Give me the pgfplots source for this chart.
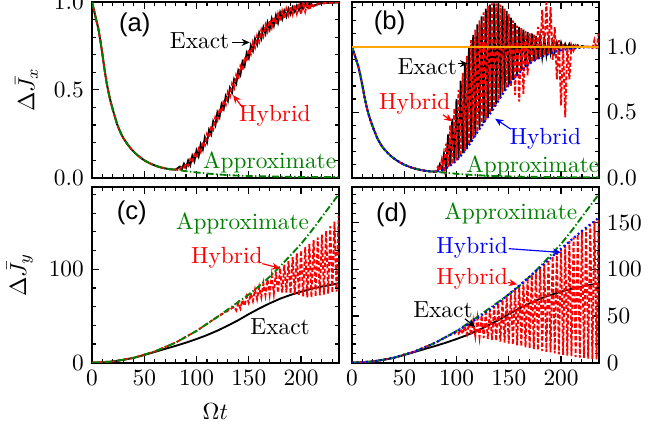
\documentclass[border=0pt]{standalone}
\usepackage{fontspec}
\usepackage{pgfplots}
\pgfplotsset{compat=1.18}
\usetikzlibrary{arrows.meta}
\newfontfamily\helv{Liberation Sans}
\definecolor{dgreen}{rgb}{0,0.5,0}
\definecolor{orng}{rgb}{1,0.65,0}
\tikzset{
 lbl/.style={font=\fontsize{10}{12}\selectfont, inner sep=0pt},
 plab/.style={font=\helv\fontsize{11}{13}\selectfont, inner sep=0pt},
 arr/.style={-{Stealth[length=3.5pt,width=3pt]}, line width=0.5pt},
 exact/.style={black, line width=0.8pt},
 hyb/.style={red, line width=0.8pt, dash pattern=on 1.8pt off 0.9pt},
 apx/.style={dgreen, line width=0.8pt, dash pattern=on 3pt off 1pt on 0.6pt off 1pt},
 hybb/.style={blue, line width=0.9pt, dash pattern=on 0.8pt off 1.2pt},
}
\pgfplotsset{
 panel/.style={scale only axis, width=105.7pt, height=75.3pt, xmin=0, xmax=236,
   anchor=north west, axis line style={line width=0.9pt},
   tick style={line width=0.5pt, black}, major tick length=3pt, minor tick length=1.6pt,
   xtick={0,50,100,150,200}, minor xtick={10,20,...,230}, tick align=inside,
   clip mode=individual, every axis plot/.append style={mark=none}},
 dec1/.style={yticklabel style={/pgf/number format/.cd, fixed, fixed zerofill, precision=1}},
}
\begin{document}
\begin{tikzpicture}
\path[use as bounding box] (0,0) rectangle (282pt,-180.43pt);
% ---------------- (a)
\begin{axis}[panel, at={(39.43pt,-0.86pt)}, ymin=0, ymax=1.0, ytick={0,0.5,1},
  minor ytick={0.1,0.2,0.3,0.4,0.6,0.7,0.8,0.9}, xticklabels={},
  dec1, ylabel={$\Delta\bar{J}_x$}]
\addplot[exact] coordinates {(0,1.000)(2,0.950)(4,0.900)(6,0.850)(8,0.780)(10,0.700)(12,0.615)(14,0.540)(16,0.480)(18,0.430)(20,0.385)(22,0.345)(24,0.305)(26,0.275)(28,0.248)(30,0.225)(34,0.190)(38,0.160)(42,0.136)(46,0.116)(50,0.099)(55,0.083)(60,0.070)(65,0.060)(70,0.053)(75,0.048)(80,0.046)
(84,.063)(86,.049)(88,.080)(90,.057)(92,.098)(94,.071)(96,.125)(98,.094)(100,.155)(102,.122)(104,.190)(106,.160)(108,.230)(110,.200)(112,.273)(114,.247)(116,.322)(118,.297)(120,.372)(122,.345)(124,.418)(126,.391)(128,.464)(130,.437)(132,.511)(134,.485)(136,.560)(138,.535)(140,.610)(142,.585)(144,.660)(146,.635)(148,.709)(150,.681)(152,.752)(154,.722)(156,.791)(158,.758)(160,.825)(162,.791)(164,.856)(166,.820)(168,.883)(170,.845)(172,.905)(174,.865)(176,.924)(178,.882)(180,.940)(182,.903)(184,.950)(186,.917)(188,.962)(190,.932)(192,.970)(194,.945)(196,.979)(198,.953)(200,.984)(202,.963)(204,.988)(206,.971)(208,.992)(210,.977)(220,.993)(236,.998)};
\addplot[hyb] coordinates {(0,1.000)(2,0.950)(4,0.900)(6,0.850)(8,0.780)(10,0.700)(12,0.615)(14,0.540)(16,0.480)(18,0.430)(20,0.385)(22,0.345)(24,0.305)(26,0.275)(28,0.248)(30,0.225)(34,0.190)(38,0.160)(42,0.136)(46,0.116)(50,0.099)(55,0.083)(60,0.070)(65,0.060)(70,0.053)(75,0.048)(80,0.046)
(84,.045)(86,.065)(88,.058)(90,.082)(92,.068)(94,.105)(96,.088)(98,.132)(100,.112)(102,.165)(104,.145)(106,.205)(108,.185)(110,.248)(112,.228)(114,.295)(116,.275)(118,.345)(120,.325)(122,.393)(124,.370)(126,.440)(128,.415)(130,.487)(132,.462)(134,.535)(136,.510)(138,.585)(140,.560)(142,.635)(144,.610)(146,.685)(148,.660)(150,.731)(152,.703)(154,.772)(156,.741)(158,.808)(160,.775)(162,.841)(164,.806)(166,.870)(168,.833)(170,.895)(172,.855)(174,.915)(176,.874)(178,.932)(180,.890)(182,.948)(184,.905)(186,.962)(188,.925)(190,.975)(192,.930)(194,.985)(196,.935)(198,.995)(200,.930)(202,.998)(204,.945)(206,.995)(208,.955)(210,.992)(212,.975)(216,.99)(220,.993)(236,.998)};
\addplot[apx] coordinates {(0,1.000)(2,0.950)(4,0.900)(6,0.850)(8,0.780)(10,0.700)(12,0.615)(14,0.540)(16,0.480)(18,0.430)(20,0.385)(22,0.345)(24,0.305)(26,0.275)(28,0.248)(30,0.225)(34,0.190)(38,0.160)(42,0.136)(46,0.116)(50,0.099)(55,0.083)(60,0.070)(65,0.060)(70,0.053)(75,0.048)(80,0.046)
(90,.037)(100,.030)(110,.024)(120,.019)(130,.015)(140,.012)(160,.008)(180,.006)(200,.004)(236,.003)};
\node[plab] at (axis cs:41,0.87) {(a)};
\node[lbl] at (axis cs:103,0.78) {Exact};
\draw[arr] (axis cs:134,0.77) -- (axis cs:151,0.77);
\node[lbl, red] at (axis cs:175,0.35) {Hybrid};
\draw[arr, red] (axis cs:144,0.40) -- (axis cs:135,0.47);
\node[lbl, dgreen] at (axis cs:170,0.085) {Approximate};
\end{axis}
% ---------------- (b)
\begin{axis}[panel, at={(150.86pt,-0.86pt)}, ymin=0, ymax=1.34, ytick={0,0.5,1},
  minor ytick={0.1,0.2,0.3,0.4,0.6,0.7,0.8,0.9,1.1,1.2,1.3}, xticklabels={},
  yticklabel pos=right, dec1]
\addplot[exact] coordinates {(0,1.000)(2,0.950)(4,0.900)(6,0.850)(8,0.780)(10,0.700)(12,0.615)(14,0.540)(16,0.480)(18,0.430)(20,0.385)(22,0.345)(24,0.305)(26,0.275)(28,0.248)(30,0.225)(34,0.190)(38,0.160)(42,0.136)(46,0.116)(50,0.099)(55,0.083)(60,0.070)(65,0.060)(70,0.053)(75,0.048)(80,0.046)
(82,.049)(84,.10)(86,.059)(88,.18)(90,.072)(92,.33)(94,.091)(96,.45)(98,.116)(100,.60)(102,.147)(104,.74)(106,.185)(108,.86)(110,.225)(112,1.00)(114,.272)(116,1.09)(118,.322)(120,1.17)(122,.370)(124,1.23)(126,.416)(128,1.29)(130,.462)(132,1.32)(134,.510)(136,1.33)(138,.560)(140,1.33)(142,.610)(144,1.31)(146,.660)(148,1.27)(150,.706)(152,1.22)(154,.747)(156,1.18)(158,.783)(160,1.15)(162,.816)(164,1.13)(166,.845)(168,1.11)(170,.870)(172,1.10)(174,.890)(176,1.08)(178,.907)(180,1.07)(182,.923)(184,1.06)(186,.937)(188,1.05)(190,.950)(192,1.04)(194,.960)(196,1.03)(198,.968)(200,1.03)(202,.975)(204,1.02)(206,.981)(208,1.02)(210,.986)(212,1.01)(214,.99)(216,1.01)(218,.993)(220,1.005)(224,.996)(236,1.0)};
\addplot[hyb] coordinates {(0,1.000)(2,0.950)(4,0.900)(6,0.850)(8,0.780)(10,0.700)(12,0.615)(14,0.540)(16,0.480)(18,0.430)(20,0.385)(22,0.345)(24,0.305)(26,0.275)(28,0.248)(30,0.225)(34,0.190)(38,0.160)(42,0.136)(46,0.116)(50,0.099)(55,0.083)(60,0.070)(65,0.060)(70,0.053)(75,0.048)(80,0.046)
(82,.08)(84,.053)(86,.14)(88,.065)(90,.26)(92,.081)(94,.40)(96,.103)(98,.53)(100,.130)(102,.67)(104,.165)(106,.80)(108,.205)(110,.93)(112,.248)(114,1.05)(116,.297)(118,1.13)(120,.347)(122,1.20)(124,.393)(126,1.26)(128,.439)(130,1.31)(132,.486)(134,1.33)(136,.535)(138,1.33)(140,.585)(142,1.32)(144,.635)(146,1.29)(148,.684)(150,1.25)(152,.70)(154,1.20)(156,.63)(158,1.16)(160,.58)(162,1.14)(164,.64)(166,1.12)(168,.78)(170,1.10)(172,.88)(174,1.09)(176,.90)(178,1.15)(180,.92)(182,1.28)(184,.93)(186,1.36)(188,.94)(190,1.30)(192,.90)(194,1.15)(196,.75)(198,1.05)(200,.55)(202,1.02)(204,.46)(206,1.01)(208,.75)(210,1.01)(212,.97)(214,1.01)(216,.99)(220,1.0)(228,1.0)(230,.99)(232,1.05)(234,.98)(236,1.1)};
\addplot[apx] coordinates {(0,1.000)(2,0.950)(4,0.900)(6,0.850)(8,0.780)(10,0.700)(12,0.615)(14,0.540)(16,0.480)(18,0.430)(20,0.385)(22,0.345)(24,0.305)(26,0.275)(28,0.248)(30,0.225)(34,0.190)(38,0.160)(42,0.136)(46,0.116)(50,0.099)(55,0.083)(60,0.070)(65,0.060)(70,0.053)(75,0.048)(80,0.046)
(90,.037)(100,.030)(110,.024)(120,.019)(130,.015)(140,.012)(160,.008)(180,.006)(200,.004)(236,.003)};
\addplot[hybb] coordinates {(0,1.000)(2,0.950)(4,0.900)(6,0.850)(8,0.780)(10,0.700)(12,0.615)(14,0.540)(16,0.480)(18,0.430)(20,0.385)(22,0.345)(24,0.305)(26,0.275)(28,0.248)(30,0.225)(34,0.190)(38,0.160)(42,0.136)(46,0.116)(50,0.099)(55,0.083)(60,0.070)(65,0.060)(70,0.053)(75,0.048)(80,0.046)
(85,.055)(90,.072)(95,.097)(100,.130)(105,.175)(110,.225)(115,.285)(120,.347)(125,.405)(130,.462)(135,.522)(140,.585)(145,.648)(150,.706)(155,.757)(160,.800)(165,.838)(170,.870)(175,.895)(180,.915)(185,.933)(190,.950)(195,.962)(200,.972)(210,.986)(220,.993)(236,.998)};
\addplot[orng, line width=0.9pt] coordinates {(0,1)(236,1)};
\node[plab] at (axis cs:36,1.18) {(b)};
\node[lbl] at (axis cs:72,0.85) {Exact};
\draw[arr] (axis cs:101,0.87) -- (axis cs:111,0.87);
\node[lbl, red] at (axis cs:60,0.56) {Hybrid};
\draw[arr, red] (axis cs:87,0.48) -- (axis cs:96,0.43);
\node[lbl, blue] at (axis cs:185,0.30) {Hybrid};
\draw[arr, blue] (axis cs:152,0.37) -- (axis cs:137,0.45);
\node[lbl, dgreen] at (axis cs:173,0.085) {Approximate};
\end{axis}
% ---------------- (c)
\begin{axis}[panel, at={(39.43pt,-80.14pt)}, ymin=0, ymax=188, ytick={0,100},
  minor ytick={20,40,...,180}, xlabel={$\Omega t$}, xlabel style={inner sep=0pt, yshift=-4.2pt},
  ylabel={$\Delta\bar{J}_y$}]
\addplot[exact] coordinates {(0,0)(10,0.3)(20,1.3)(30,3)(40,5.2)(50,8.2)(60,11.5)(70,14.8)(80,18)(90,21.5)(100,25.3)(110,29.5)(120,34.3)(130,39.7)(140,45.5)(150,52)(160,58)(170,63.5)(180,68.5)(190,72.5)(200,76)(210,79)(220,81.5)(236,85)};
\addplot[hyb] coordinates {(0,0)(20,1.3)(40,5.3)(60,12)(80,21.5)(100,34)(120,49)(132,57)(136,60)(138,56)(140,64)(142,58)(144,67)(146,61)(148,71)(150,64)(152,74)(154,66)(156,78)(158,68)(160,81)(162,70)(164,85)(166,72)(168,89)(170,73)(172,93)(174,74)(176,97)(178,75)(180,101)(182,75)(184,105)(186,75)(188,109)(190,74)(192,113)(194,73)(196,117)(198,72)(200,120)(202,71)(204,124)(206,70)(208,127)(210,70)(212,131)(214,71)(216,134)(218,72)(220,137)(222,73)(224,141)(226,74)(228,146)(230,75)(232,151)(234,76)(236,157)};
\addplot[apx] coordinates {(0,0)(20,1.3)(40,5.3)(60,12)(80,21.5)(100,34)(120,49)(140,65)(150,73)(160,82)(170,92)(180,103)(190,115)(200,127)(210,141)(220,156)(236,180)};
\node[plab] at (axis cs:38,160) {(c)};
\node[lbl, dgreen] at (axis cs:144,149) {Approximate};
\node[lbl, red] at (axis cs:129,112) {Hybrid};
\draw[arr, red] (axis cs:163,106) -- (axis cs:180,101);
\node[lbl] at (axis cs:180,38) {Exact};
\end{axis}
% ---------------- (d)
\begin{axis}[panel, at={(150.86pt,-80.14pt)}, ymin=0, ymax=188, ytick={0,50,100,150},
  minor ytick={10,20,...,180}, yticklabel pos=right]
\addplot[exact] coordinates {(0,0)(10,0.3)(20,1.3)(30,3)(40,5.2)(50,8.2)(60,11.5)(70,14.8)(80,18)(90,21.5)(100,25.3)(110,29.5)(120,34.3)(130,39.7)(140,45.5)(150,52)(160,58)(170,63.5)(180,68.5)(190,72.5)(200,76)(210,79)(220,81.5)(236,85)};
\addplot[hyb] coordinates {(0,0)(20,1.3)(40,5.3)(60,12)(80,21.5)(96,31)(98,31)(100,33.5)(102,31)(104,36)(106,31)(108,39)(110,30.5)(112,42)(114,29.5)(116,44.5)(118,28.5)(120,47.5)(122,27.5)(124,50.5)(126,26.5)(128,53.5)(130,25.5)(132,57)(134,24.5)(136,60.5)(138,23.5)(140,64)(142,22.5)(144,67.5)(146,21.5)(148,71)(150,20.5)(152,75)(154,19.5)(156,79)(158,18.5)(160,83)(162,17.5)(164,87)(166,16.5)(168,91)(170,15.5)(172,95)(174,14.5)(176,99)(178,13.5)(180,102)(182,12.5)(184,106)(186,11.5)(188,110)(190,11)(192,114)(194,10)(196,118)(198,9)(200,122)(202,8.5)(204,126)(206,7.5)(208,130)(210,7)(212,134)(214,6)(216,137.5)(218,5.5)(220,141)(222,5)(224,144)(226,4.5)(228,148)(230,4)(232,151.5)(234,3.5)(236,155)};
\addplot[apx] coordinates {(0,0)(20,1.3)(40,5.3)(60,12)(80,21.5)(100,34)(120,49)(140,65)(150,73)(160,82)(170,92)(180,103)(190,115)(200,127)(210,141)(220,156)(236,180)};
\addplot[hybb] coordinates {(0,0)(20,1.3)(40,5.3)(60,12)(80,21.5)(100,33.5)(120,47.5)(140,64)(160,82.5)(180,102)(200,122)(220,141)(236,155)};
\node[plab] at (axis cs:38,158) {(d)};
\node[lbl, dgreen] at (axis cs:152,160) {Approximate};
\node[lbl, blue] at (axis cs:115,123) {Hybrid};
\draw[arr, blue] (axis cs:150,122) -- (axis cs:200,118);
\node[lbl, red] at (axis cs:115,90) {Hybrid};
\draw[arr, red] (axis cs:149,86) -- (axis cs:158,84);
\node[lbl] at (axis cs:87,57) {Exact};
\draw[arr] (axis cs:108,47) -- (axis cs:118,38);
\end{axis}
\end{tikzpicture}
\end{document}
